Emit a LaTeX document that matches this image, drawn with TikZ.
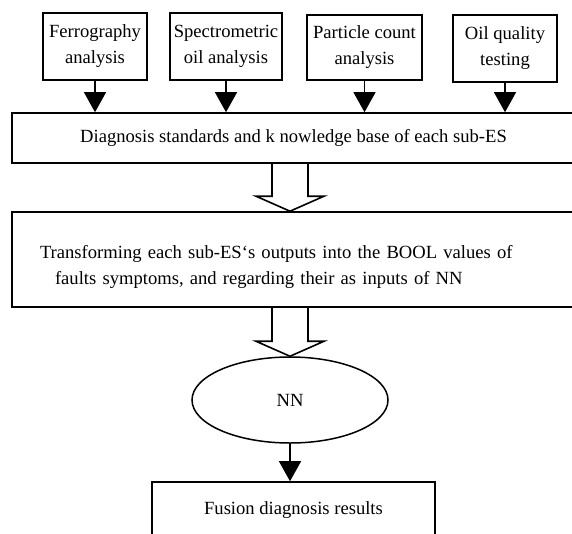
\documentclass[tikz,border=0pt]{standalone}
\usepackage{fontspec}
\setmainfont{Liberation Serif}
\usetikzlibrary{shapes.geometric}
\usetikzlibrary{arrows.meta}
\usetikzlibrary{calc}

% hollow block arrow from #1 (top) to #2 (tip)
\newcommand{\fatarrow}[2]{%
	\draw[fat] ($(#1)+(-18,0)$) -- ($(#2)+(-18,-15)$) -- ($(#2)+(-34,-15)$) -- (#2)
		-- ($(#2)+(34,-15)$) -- ($(#2)+(18,-15)$) -- ($(#1)+(18,0)$);}

\begin{document}
\begin{tikzpicture}[x=1pt,y=-1pt,
	font=\fontsize{18.6}{26}\selectfont,
	topbox/.style={draw,line width=2.4pt,minimum height=67,align=center,inner sep=0pt},
	widebox/.style={draw,line width=1.6pt,minimum width=563,inner sep=0pt},
	feed/.style={line width=1.2pt,-{Triangle[width=22pt,length=20pt]}},
	fat/.style={line width=1.6pt,line join=miter}]
	\useasboundingbox (0,0) rectangle (572,533);

%% Analysis methods
	\draw (95,46.5) node[topbox,minimum width=104] (ferro){Ferrography\\analysis};
	\draw (226,46.5) node[topbox,minimum width=112] (spectro){Spectrometric\\oil analysis};
	\draw (364.5,47.5) node[topbox,minimum width=115,minimum height=65] (particle){Particle count\\analysis};
	\draw (505,48.5) node[topbox,minimum width=104] (quality){Oil quality\\testing};

%% Sub-ES and fusion
	\draw (293.5,138) node[widebox,minimum height=50] (base){Diagnosis standards and k nowledge base of each sub-ES};
	\draw (293.5,259.5) node[widebox,minimum height=95,inner xsep=28pt,text width=507pt,align=left] (bool)
		{\rule{0pt}{28pt}Transforming each sub-ES`s outputs into the BOOL values of\\\hspace*{15pt}faults symptoms, and regarding their as inputs of NN};
	\draw (290,400) node[ellipse,draw,line width=1.5pt,minimum width=196,minimum height=86,inner sep=0pt] (nn){NN};
	\draw (293.5,510) node[widebox,minimum width=283,minimum height=56] (fusion){Fusion diagnosis results};

%% Arrows
	\draw[feed] (ferro.south) -- (ferro.south |- base.north);
	\draw[feed] (spectro.south) -- (spectro.south |- base.north);
	\draw[feed] (particle.south) -- (particle.south |- base.north);
	\draw[feed] (quality.south) -- (quality.south |- base.north);
	\coordinate (a1) at (base.south -| nn);
	\coordinate (t1) at (bool.north -| nn);
	\coordinate (a2) at (bool.south -| nn);
	\coordinate (t2) at (nn.north);
	\fatarrow{a1}{t1}
	\fatarrow{a2}{t2}
	\draw[feed] (nn.south) -- (nn.south |- fusion.north);
\end{tikzpicture}
\end{document}
